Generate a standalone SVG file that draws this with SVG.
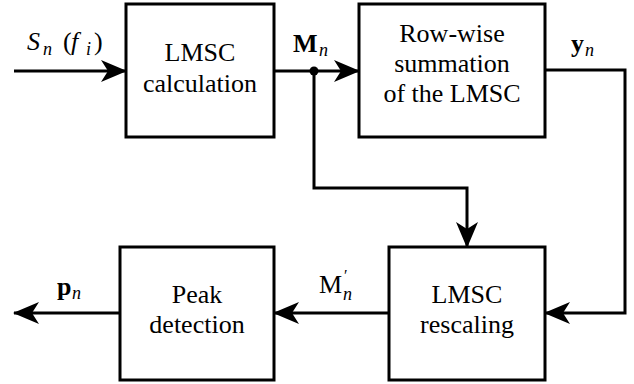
<svg xmlns="http://www.w3.org/2000/svg" width="634" height="384" viewBox="0 0 634 384" font-family="'Liberation Serif', 'Times New Roman', serif">
  <style>
    .box { fill: #ffffff; stroke: #000000; stroke-width: 3; }
    text { font-family: 'Liberation Serif', 'Times New Roman', serif; fill: #000000; }
    .lbl { font-size: 26px; text-anchor: middle; }
    .math { font-size: 26px; }
    .it { font-style: italic; }
    .bf { font-weight: bold; }
    .sub { font-size: 18px; font-style: italic; }
    .wire { fill: none; stroke: #000000; stroke-width: 3; }
  </style>
  <defs>
    <marker id="arrow" viewBox="0 0 26 22" refX="25" refY="11" markerWidth="26" markerHeight="22" markerUnits="userSpaceOnUse" orient="auto">
      <path d="M0,0 L26,11 L0,22 L7,11 Z" fill="#000000"/>
    </marker>
  </defs>

  <!-- connectors -->
  <g id="connectors">
    <path class="wire" d="M14,71 H126" marker-end="url(#arrow)"/>
    <path class="wire" d="M274,71 H359" marker-end="url(#arrow)"/>
    <path class="wire" d="M314,71 V188 H467 V247" marker-end="url(#arrow)"/>
    <circle cx="314" cy="71" r="4.5" fill="#000000"/>
    <path class="wire" d="M545,70 H625 V313 H545" marker-end="url(#arrow)"/>
    <path class="wire" d="M389,313 H274" marker-end="url(#arrow)"/>
    <path class="wire" d="M120,313 H14" marker-end="url(#arrow)"/>
  </g>

  <!-- signal labels -->
  <g id="labels">
    <text class="math it" x="27" y="50">S</text>
    <text class="math sub" x="43" y="55">n</text>
    <text class="math" x="63" y="50">(</text>
    <text class="math it" x="71" y="50">f</text>
    <text class="math sub" x="86" y="55">i</text>
    <text class="math" x="94" y="50">)</text>

    <text class="math bf" x="293" y="52">M</text>
    <text class="math sub" x="319" y="56">n</text>

    <text class="math bf" x="571" y="52">y</text>
    <text class="math sub" x="585" y="56">n</text>

    <text class="math bf" x="57" y="295">p</text>
    <text class="math sub" x="72" y="299">n</text>

    <text class="math" x="319" y="293">M</text>
    <text class="math" x="344" y="281" style="font-size:16px">′</text>
    <text class="math sub" x="343" y="300">n</text>
  </g>

  <g id="lmsc-calculation">
    <rect class="box" x="126" y="4" width="148" height="133"/>
    <text class="lbl" x="200" y="61">LMSC</text>
    <text class="lbl" x="200" y="92">calculation</text>
  </g>

  <g id="row-wise-summation">
    <rect class="box" x="359" y="4" width="186" height="133"/>
    <text class="lbl" x="452" y="42">Row-wise</text>
    <text class="lbl" x="452" y="72">summation</text>
    <text class="lbl" x="452" y="102">of the LMSC</text>
  </g>

  <g id="lmsc-rescaling">
    <rect class="box" x="389" y="247" width="156" height="133"/>
    <text class="lbl" x="467" y="303">LMSC</text>
    <text class="lbl" x="467" y="333">rescaling</text>
  </g>

  <g id="peak-detection">
    <rect class="box" x="120" y="247" width="154" height="133"/>
    <text class="lbl" x="197" y="303">Peak</text>
    <text class="lbl" x="197" y="333">detection</text>
  </g>
</svg>
